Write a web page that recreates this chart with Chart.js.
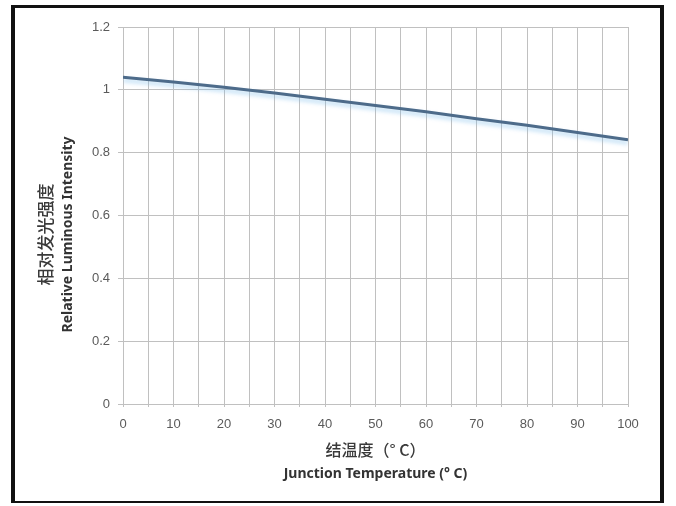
<!DOCTYPE html>
<html>
<head>
<meta charset="utf-8">
<script src="https://cdn.jsdelivr.net/npm/chart.js@4/dist/chart.umd.min.js"></script>
<style>
  html, body { margin: 0; padding: 0; background: #fff; }
  #frame {
    position: absolute; left: 11px; top: 5px;
    width: 645px; height: 493px;
    border-style: solid; border-color: #111;
    border-width: 3px 4px 2px 4px;
  }
  #frame canvas { display: block; }
</style>
</head>
<body>
<div id="frame"><canvas id="lumChart" width="645" height="493"></canvas></div>
<script>
// junction temperature (°C) and relative luminous intensity
const tempC = [0, 10, 20, 30, 40, 50, 60, 70, 80, 90, 100];
const relIntensity = [1.04, 1.025, 1.008, 0.99, 0.97, 0.95, 0.93, 0.908, 0.887, 0.864, 0.841];

const yTitleEn = "Relative Luminous Intensity";
const yTitleZh = "相对发光强度";
const xTitleEn = "Junction Temperature (° C)";
const xTitleZh = "结温度（° C）";

const points = tempC.map((t, i) => ({ x: t, y: relIntensity[i] }));

// soft light-blue glow under the curve, like the scanned original
const glow = {
  id: "glow",
  beforeDatasetDraw(chart) {
    const ctx = chart.ctx;
    ctx.save();
    ctx.shadowColor = "rgba(120,185,235,0.55)";
    ctx.shadowBlur = 4;
    ctx.shadowOffsetY = 3;
  },
  afterDatasetDraw(chart) {
    chart.ctx.restore();
  }
};

// the y title sits a little below the middle of the axis in the original
const Y_SHIFT = 19;
const yTitleShift = {
  id: "yTitleShift",
  afterLayout(chart) {
    const sc = chart.scales.y;
    if (sc._shifted) return;
    const orig = sc.drawTitle.bind(sc);
    sc.drawTitle = function () {
      const ctx = chart.ctx;
      ctx.save();
      ctx.translate(0, Y_SHIFT);
      orig();
      ctx.restore();
    };
    sc._shifted = true;
  }
};

// Chinese title lines (larger type than the English ones)
const zhTitles = {
  id: "zhTitles",
  afterDraw(chart) {
    const { ctx, chartArea: a } = chart;
    ctx.save();
    ctx.fillStyle = "#3a3a3a";
    ctx.font = "500 16px 'Noto Sans CJK SC'";
    ctx.textAlign = "center";
    ctx.textBaseline = "middle";
    ctx.fillText(xTitleZh, (a.left + a.right) / 2, a.bottom + 46);
    ctx.translate(a.left - 77, (a.top + a.bottom) / 2 + Y_SHIFT);
    ctx.rotate(-Math.PI / 2);
    ctx.font = "500 17px 'Noto Sans CJK SC'";
    ctx.fillText(yTitleZh, 0, 0);
    ctx.restore();
  }
};

new Chart(document.getElementById("lumChart"), {
  type: "line",
  data: {
    datasets: [{
      data: points,
      borderColor: "#4d6b8a",
      borderWidth: 3,
      pointRadius: 0,
      tension: 0,
      fill: false
    }]
  },
  options: {
    responsive: false,
    animation: false,
    layout: { padding: { top: 19, right: 32, bottom: 0, left: 0 } },
    plugins: { legend: { display: false }, tooltip: { enabled: false } },
    scales: {
      x: {
        type: "linear",
        min: 0, max: 100,
        afterFit(scale) { scale.height = 97; },
        ticks: {
          stepSize: 5,
          autoSkip: false,
          maxRotation: 0,
          padding: 10,
          color: "#5a5a5a",
          font: { family: "Liberation Sans", size: 13 },
          callback: v => (v % 10 === 0 ? v : "")
        },
        grid: { color: "#c0c0c0", lineWidth: 1, tickLength: 3 },
        border: { display: false },
        title: {
          display: true,
          text: xTitleEn,
          color: "#333",
          padding: { top: 0, bottom: 19 },
          font: { family: "'Noto Sans', 'Liberation Sans'", size: 14, weight: "bold", lineHeight: 1.2 }
        }
      },
      y: {
        min: 0, max: 1.2,
        afterFit(scale) { scale.width = 108; },
        ticks: {
          stepSize: 0.2,
          padding: 8,
          color: "#5a5a5a",
          font: { family: "Liberation Sans", size: 13 },
          callback: v => Math.round(v * 10) / 10
        },
        grid: { color: "#c0c0c0", lineWidth: 1, tickLength: 5 },
        border: { display: false },
        title: {
          display: true,
          text: yTitleEn,
          color: "#333",
          padding: { top: 45, bottom: 0 },
          font: { family: "'Noto Sans', 'Liberation Sans'", size: 14, weight: "bold", lineHeight: 1.2 }
        }
      }
    }
  },
  plugins: [glow, yTitleShift, zhTitles]
});
</script>
</body>
</html>
